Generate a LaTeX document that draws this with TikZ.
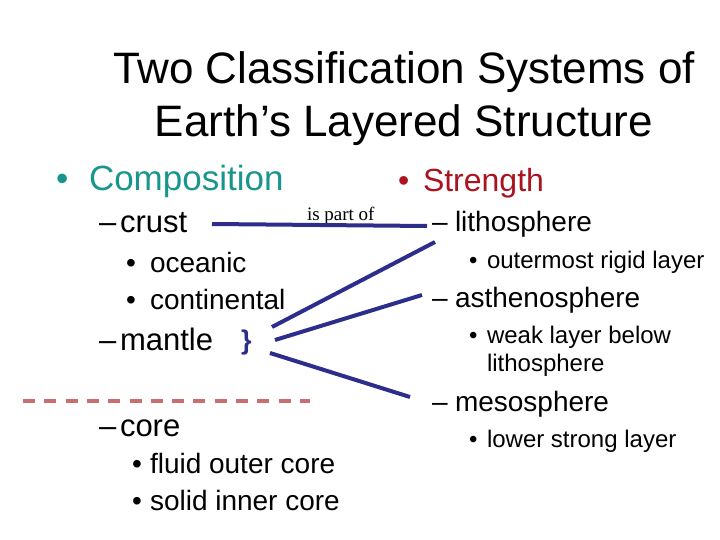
\documentclass[tikz,border=0pt]{standalone}
\usepackage{fontspec}
\setmainfont{Liberation Sans}
\newfontfamily\serifface{Liberation Serif}
\definecolor{teal1}{RGB}{25,150,140}
\definecolor{darkred1}{RGB}{170,20,30}
\definecolor{navy1}{RGB}{45,45,140}
\definecolor{dashred}{RGB}{200,110,110}
\tikzset{
  txt/.style={inner sep=0pt, outer sep=0pt, anchor=base west},
  ttl/.style={inner sep=0pt, outer sep=0pt, anchor=base, font=\fontsize{44}{48}\selectfont},
  lA/.style={txt, font=\fontsize{35}{40}\selectfont, text=teal1},
  lB/.style={txt, font=\fontsize{31}{36}\selectfont},
  lC/.style={txt, font=\fontsize{28}{32}\selectfont},
  rA/.style={txt, font=\fontsize{32}{36}\selectfont, text=darkred1},
  rB/.style={txt, font=\fontsize{28}{32}\selectfont},
  rC/.style={txt, font=\fontsize{24}{28}\selectfont},
  link/.style={draw=navy1, line width=4pt},
}
\begin{document}
\begin{tikzpicture}[x=1pt,y=-1pt]
\useasboundingbox (0,0) rectangle (720,540);
% title
\node[ttl] (t1) at (404,84) {Two Classification Systems of};
\node[ttl] (t2) at (404,137) {Earth’s Layered Structure};
% left column
\node[lA] (b1) at (56,191) {•};
\node[lA] (comp) at (89,191) {Composition};
\node[lB] (d1) at (99,233) {–};
\node[lB] (crust) at (120,233) {crust};
\node[lC] (b2) at (126,272) {•};
\node[lC] (oce) at (150,272) {oceanic};
\node[lC] (b3) at (126,309) {•};
\node[lC] (cont) at (150,309) {continental};
\node[lB] (d2) at (99,350) {–};
\node[lB] (mantle) at (120,350) {mantle};
\node[txt, font=\bfseries\fontsize{27}{30}\selectfont, text=navy1] (brace) at (241,349) {\}};
\node[lB] (d3) at (99,436) {–};
\node[lB] (core) at (120,436) {core};
\node[lC] (b4) at (132,473) {•};
\node[lC] (fluid) at (150,473) {fluid outer core};
\node[lC] (b5) at (132,510) {•};
\node[lC] (solid) at (150,510) {solid inner core};
% right column
\node[rA] (b6) at (398,192) {•};
\node[rA] (str) at (423,192) {Strength};
\node[rB] (d4) at (432,232) {–};
\node[rB] (litho) at (455,232) {lithosphere};
\node[rC] (b7) at (469,268) {•};
\node[rC] (outer) at (487,268) {outermost rigid layer};
\node[rB] (d5) at (432,307) {–};
\node[rB] (astheno) at (455,307) {asthenosphere};
\node[rC] (b8) at (469,343) {•};
\node[rC] (weak) at (487,343) {weak layer below};
\node[rC] (weak2) at (487,371) {lithosphere};
\node[rB] (d6) at (432,411) {–};
\node[rB] (meso) at (455,411) {mesosphere};
\node[rC] (b9) at (469,447) {•};
\node[rC] (lower) at (487,447) {lower strong layer};
% label
\node[txt, font=\serifface\fontsize{19}{21}\selectfont] (ipo) at (307,221) {is part of};
% connectors
\coordinate (c0) at (212,224);
\coordinate (c1) at (427,226);
\coordinate (m1) at (272,327);
\coordinate (m2) at (275,340);
\coordinate (m3) at (270,353);
\coordinate (e1) at (435,242);
\coordinate (e2) at (422,295);
\coordinate (e3) at (410,397);
\draw[link] (c0) -- (c1);
\draw[link] (m1) -- (e1);
\draw[link] (m2) -- (e2);
\draw[link] (m3) -- (e3);
% dashed boundary
\coordinate (dl) at (23,401);
\coordinate (dr) at (310,401);
\draw[dashred, line width=4pt, dash pattern=on 12pt off 9.3pt] (dl) -- (dr);
\end{tikzpicture}
\end{document}
